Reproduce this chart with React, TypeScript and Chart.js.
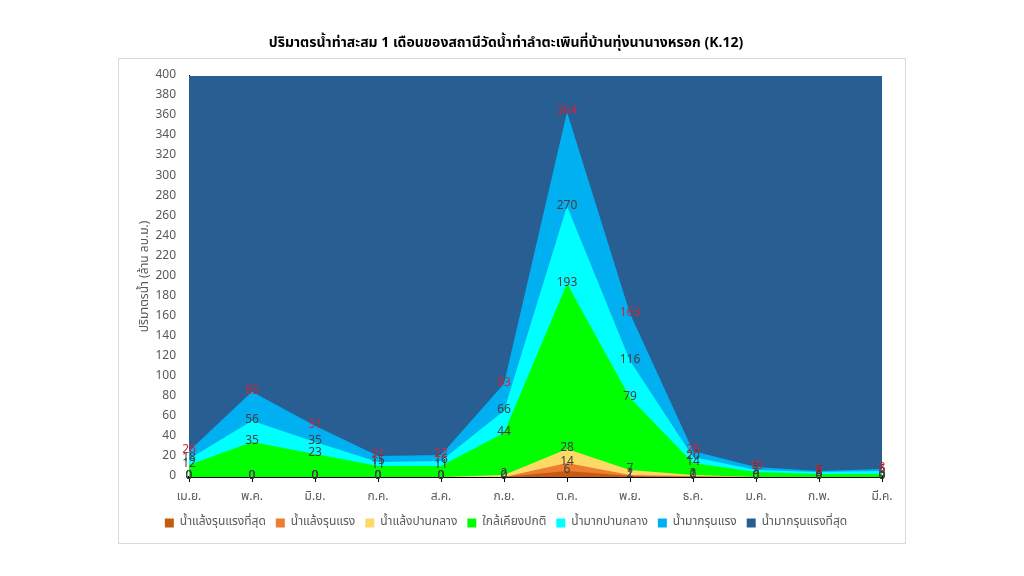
import React, { useEffect, useRef } from "react";
import { Chart, registerables } from "chart.js";

Chart.register(...registerables);

const FONT = "Tahoma, 'Noto Sans Thai', 'Noto Sans', 'DejaVu Sans', sans-serif";

const chartTitle =
  "ปริมาตรน้ำท่าสะสม 1 เดือนของสถานีวัดน้ำท่าลำตะเพินที่บ้านทุ่งนานางหรอก (K.12)";
const yAxisTitle = "ปริมาตรน้ำ (ล้าน ลบ.ม.)";

const months = ["เม.ย.", "พ.ค.", "มิ.ย.", "ก.ค.", "ส.ค.", "ก.ย.", "ต.ค.", "พ.ย.", "ธ.ค.", "ม.ค.", "ก.พ.", "มี.ค."];

const seriesNames = [
  "น้ำแล้งรุนแรงที่สุด",
  "น้ำแล้งรุนแรง",
  "น้ำแล้งปานกลาง",
  "ใกล้เคียงปกติ",
  "น้ำมากปานกลาง",
  "น้ำมากรุนแรง",
  "น้ำมากรุนแรงที่สุด",
];

const extremeDrought = [0, 0, 0, 0, 0, 0, 6, 1, 0, 0, 0, 0];
const severeDrought = [0, 0, 0, 0, 0, 0, 14, 2, 1, 0, 0, 0];
const moderateDrought = [0, 0, 0, 0, 0, 2, 28, 7, 2, 0, 0, 0];
const nearNormal = [12, 35, 23, 11, 11, 44, 193, 79, 14, 5, 3, 3];
const moderateWet = [18, 56, 35, 15, 16, 66, 270, 116, 20, 7, 5, 6];
const severeWet = [26, 85, 51, 21, 22, 93, 364, 163, 26, 10, 6, 8];
const extremeWet = [400, 400, 400, 400, 400, 400, 400, 400, 400, 400, 400, 400];

const seriesColors = ["#c55a11", "#ed7d31", "#ffd966", "#00ff00", "#00ffff", "#00b0f0", "#285e91"];
const labelColors = ["#404040", "#404040", "#404040", "#404040", "#404040", "#c9283e", null];

const yMin = 0;
const yMax = 400;
const yStep = 20;

const boxPlugin = {
  id: "outerBox",
  beforeDraw(chart: any) {
    const ctx = chart.ctx;
    ctx.save();
    ctx.fillStyle = "#ffffff";
    ctx.fillRect(0, 0, chart.width, chart.height);
    ctx.strokeStyle = "#d9d9d9";
    ctx.lineWidth = 1;
    ctx.strokeRect(118.5, 58.5, 787, 485);
    ctx.restore();
  },
};

const labelPlugin = {
  id: "valueLabels",
  afterDatasetsDraw(chart: any) {
    const ctx = chart.ctx;
    ctx.save();
    ctx.font = `12px ${FONT}`;
    ctx.textAlign = "center";
    ctx.textBaseline = "middle";
    chart.data.datasets.forEach((ds: any, i: number) => {
      const color = labelColors[i];
      if (!color) return;
      const meta = chart.getDatasetMeta(i);
      ctx.fillStyle = color;
      meta.data.forEach((pt: any, j: number) => {
        ctx.fillText(String(ds.data[j]), pt.x, pt.y);
      });
    });
    ctx.restore();
  },
};

export default function App() {
  const ref = useRef<HTMLCanvasElement | null>(null);

  useEffect(() => {
    if (!ref.current) return;
    const values = [extremeDrought, severeDrought, moderateDrought, nearNormal, moderateWet, severeWet, extremeWet];
    const chart = new Chart(ref.current, {
      type: "line",
      data: {
        labels: months,
        datasets: values.map((v, i) => ({
          label: seriesNames[i],
          data: v,
          backgroundColor: seriesColors[i],
          borderColor: seriesColors[i],
          borderWidth: 0,
          pointRadius: 0,
          tension: 0,
          fill: "origin",
        })),
      },
      options: {
        animation: false,
        responsive: false,
        layout: { padding: { left: 130, right: 142, top: 36, bottom: 37 } },
        plugins: {
          title: {
            display: true,
            text: chartTitle,
            color: "#000000",
            font: { family: FONT, size: 14, weight: "bold" },
            padding: { top: 0, bottom: 23 },
          },
          legend: {
            position: "bottom",
            labels: {
              color: "#595959",
              font: { family: FONT, size: 12 },
              boxWidth: 9,
              boxHeight: 9,
              padding: 10,
            },
          },
          tooltip: { enabled: false },
        },
        scales: {
          x: {
            offset: false,
            grid: { display: true, drawOnChartArea: false, drawTicks: true, tickLength: 5, color: "#000000" },
            border: { display: true, color: "#000000", width: 2 },
            ticks: { color: "#595959", font: { family: FONT, size: 12 }, padding: 8, maxRotation: 0, autoSkip: false },
            afterFit(scale: any) {
              scale.height = 30;
            },
          },
          y: {
            min: yMin,
            max: yMax,
            ticks: { stepSize: yStep, color: "#595959", font: { family: FONT, size: 12 }, padding: 13 },
            grid: { display: false, drawTicks: false },
            border: { display: true, color: "#000000", width: 1 },
            title: {
              display: true,
              text: yAxisTitle,
              color: "#595959",
              font: { family: FONT, size: 12 },
              padding: { top: 8, bottom: 0 },
            },
            afterFit(scale: any) {
              scale.width = 59;
            },
          },
        },
      },
      plugins: [boxPlugin, labelPlugin],
    });
    return () => chart.destroy();
  }, []);

  return (
    <div style={{ position: "absolute", left: 0, top: 0, width: 1024, height: 576 }}>
      <canvas ref={ref} width={1024} height={576} style={{ display: "block", width: 1024, height: 576 }} />
    </div>
  );
}
